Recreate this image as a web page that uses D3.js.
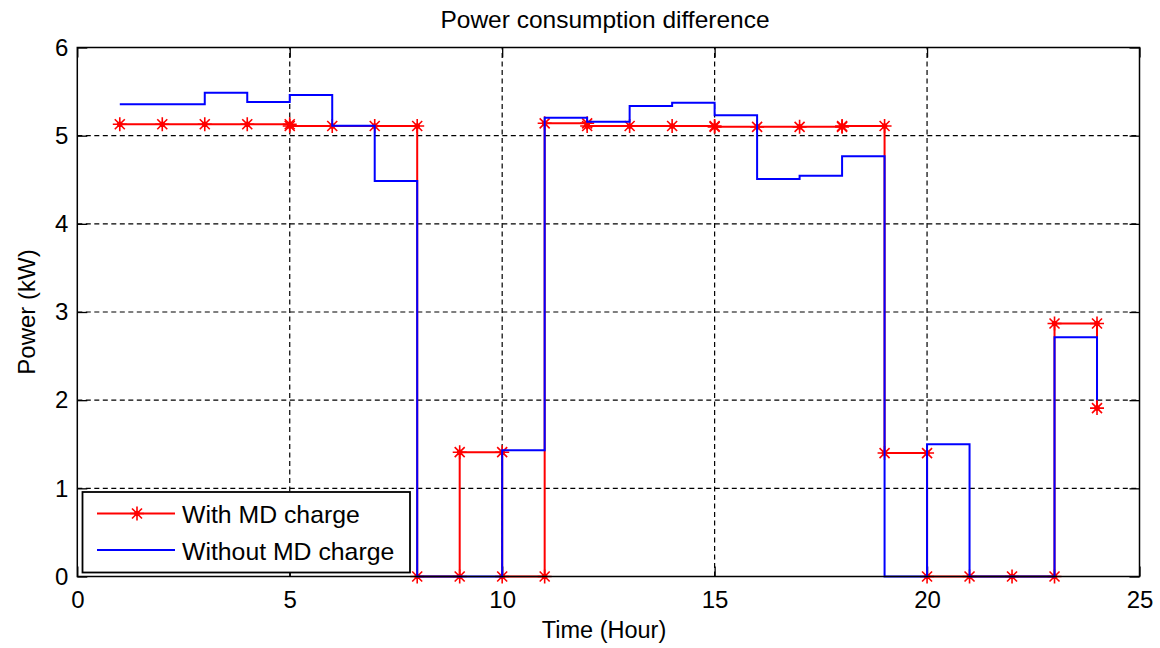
<!DOCTYPE html>
<html>
<head>
<meta charset="utf-8">
<script src="https://cdn.jsdelivr.net/npm/d3@7"></script>
<style>
  html, body { margin: 0; padding: 0; background: #fff; }
  svg { display: block; }
  text { font-family: "Liberation Sans", Arial, sans-serif; fill: #000; }
</style>
</head>
<body>
<svg id="chart" width="1160" height="648"></svg>
<script>
// ---- data ----
const title = "Power consumption difference";
const xLabel = "Time (Hour)";
const yLabel = "Power (kW)";
const xTicks = [0, 5, 10, 15, 20, 25];
const yTicks = [0, 1, 2, 3, 4, 5, 6];

// "With MD charge" – polyline with star markers at each sample (duplicate hours mark steps)
const withHours = [1, 2, 3, 4, 5, 5, 6, 7, 8, 8, 9, 9, 10, 10, 11, 11, 12, 12, 13, 14, 15, 15, 16, 17, 18, 18, 19, 19, 20, 20, 21, 22, 23, 23, 24, 24];
const withPower = [5.13, 5.13, 5.13, 5.13, 5.13, 5.11, 5.11, 5.11, 5.11, 0, 0, 1.41, 1.41, 0, 0, 5.14, 5.14, 5.11, 5.11, 5.11, 5.11, 5.10, 5.10, 5.10, 5.10, 5.11, 5.11, 1.40, 1.40, 0, 0, 0, 0, 2.87, 2.87, 1.91];

// "Without MD charge" – stairs plot
const withoutHours = [1, 2, 3, 4, 5, 6, 7, 8, 9, 10, 11, 12, 13, 14, 15, 16, 17, 18, 19, 20, 21, 22, 23, 24];
const withoutPower = [5.355, 5.355, 5.487, 5.382, 5.461, 5.113, 4.486, 0, 0, 1.431, 5.204, 5.158, 5.336, 5.374, 5.231, 4.508, 4.546, 4.766, 0, 1.50, 0, 0, 2.713, 2.0];

const seriesNames = ["With MD charge", "Without MD charge"];
const seriesColors = ["#ff0000", "#0000ff"];

// ---- layout ----
const svg = d3.select("#chart");
const L = 77.3, R = 1139.5, T = 47.5, B = 576.5;
const x = d3.scaleLinear().domain([0, 25]).range([L, R]);
const y = d3.scaleLinear().domain([0, 6]).range([B, T]);
const FS = 24;

// grid
const grid = svg.append("g").attr("stroke", "#000").attr("stroke-width", 1.2)
  .attr("stroke-dasharray", "5,3.5").attr("fill", "none");
xTicks.filter(t => t > 0 && t < 25).forEach(t => {
  grid.append("line").attr("x1", x(t)).attr("x2", x(t)).attr("y1", B).attr("y2", T);
});
yTicks.filter(t => t > 0 && t < 6).forEach(t => {
  grid.append("line").attr("y1", y(t)).attr("y2", y(t)).attr("x1", L).attr("x2", R);
});

// axes with inward ticks (all four sides)
const TL = 10;
const fmt = d3.format("d");
const axB = d3.axisBottom(x).tickValues(xTicks).tickFormat(fmt).tickSizeInner(-TL).tickSizeOuter(0).tickPadding(14);
const axT = d3.axisTop(x).tickValues(xTicks).tickSizeInner(-TL).tickSizeOuter(0).tickFormat("");
const axL = d3.axisLeft(y).tickValues(yTicks).tickFormat(fmt).tickSizeInner(-TL).tickSizeOuter(0).tickPadding(9);
const axR = d3.axisRight(y).tickValues(yTicks).tickSizeInner(-TL).tickSizeOuter(0).tickFormat("");

function style(g) {
  g.select(".domain").remove();
  g.selectAll(".tick line").attr("stroke", "#000").attr("stroke-width", 1.3);
  g.selectAll(".tick text").style("font-family", '"Liberation Sans", Arial, sans-serif')
    .style("font-size", FS + "px").attr("fill", "#000");
}
svg.append("g").attr("transform", `translate(0,${B})`).call(axB).call(style);
svg.append("g").attr("transform", `translate(0,${T})`).call(axT).call(style);
svg.append("g").attr("transform", `translate(${L},0)`).call(axL).call(style);
svg.append("g").attr("transform", `translate(${R},0)`).call(axR).call(style);

// series 1: with MD charge
const redPts = withHours.map((h, i) => [h, withPower[i]]);
const line = d3.line().x(d => x(d[0])).y(d => y(d[1]));
svg.append("path").datum(redPts).attr("d", line)
  .attr("fill", "none").attr("stroke", seriesColors[0]).attr("stroke-width", 2);

const starPath = "M-7,0H7M0,-7V7M-5,-5L5,5M-5,5L5,-5";
function star(g, cx, cy, color) {
  const s = g.append("g").attr("transform", `translate(${cx},${cy})`);
  s.append("path").attr("d", starPath).attr("stroke", color).attr("stroke-width", 1.6).attr("fill", "none");
  s.append("circle").attr("r", 2.8).attr("fill", color);
}
const mk = svg.append("g");
redPts.forEach(d => star(mk, x(d[0]), y(d[1]), seriesColors[0]));

// series 2: without MD charge (stairs)
const bluePts = withoutHours.map((h, i) => [h, withoutPower[i]]);
const stairs = d3.line().x(d => x(d[0])).y(d => y(d[1])).curve(d3.curveStepAfter);
svg.append("path").datum(bluePts).attr("d", stairs)
  .attr("fill", "none").attr("stroke", seriesColors[1]).attr("stroke-width", 2);

// axes box
svg.append("rect").attr("x", L).attr("y", T).attr("width", R - L).attr("height", B - T)
  .attr("fill", "none").attr("stroke", "#000").attr("stroke-width", 1.5);

// legend
const lg = svg.append("g");
lg.append("rect").attr("x", 82.5).attr("y", 492).attr("width", 327.5).attr("height", 80.5)
  .attr("fill", "#fff").attr("stroke", "#000").attr("stroke-width", 1.8);
const rowsY = [513.5, 550];
lg.append("line").attr("x1", 97).attr("x2", 175).attr("y1", rowsY[0]).attr("y2", rowsY[0])
  .attr("stroke", seriesColors[0]).attr("stroke-width", 2);
star(lg, 137, rowsY[0], seriesColors[0]);
lg.append("line").attr("x1", 97).attr("x2", 175).attr("y1", rowsY[1]).attr("y2", rowsY[1])
  .attr("stroke", seriesColors[1]).attr("stroke-width", 2);
seriesNames.forEach((n, i) => {
  lg.append("text").attr("x", 182).attr("y", rowsY[i] + 9.5)
    .style("font-size", "24.8px").text(n);
});

// title and axis labels
svg.append("text").attr("x", 605).attr("y", 28).attr("text-anchor", "middle")
  .style("font-size", "24.5px").text(title);
svg.append("text").attr("x", 604).attr("y", 638).attr("text-anchor", "middle")
  .style("font-size", "23.5px").text(xLabel);
svg.append("text").attr("transform", `translate(35,${(T + B) / 2}) rotate(-90)`)
  .attr("text-anchor", "middle").style("font-size", FS + "px").text(yLabel);
</script>
</body>
</html>
